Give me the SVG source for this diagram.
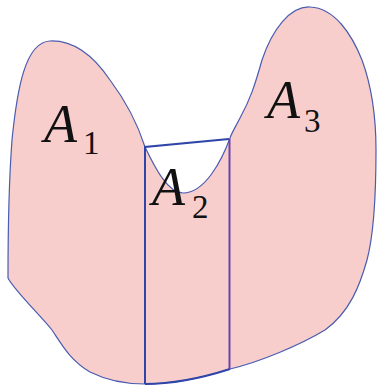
<svg xmlns="http://www.w3.org/2000/svg" width="378" height="386" viewBox="0 0 378 386">
<style>
.region{fill:#f8cecc;stroke:#4a5cb0;stroke-width:1.2}
.rect{fill:none;stroke:#2f45a8;stroke-width:2;stroke-linejoin:miter}
.rectr{fill:none;stroke:#6a44a8;stroke-width:2}
.lbl{font-family:"Liberation Serif","DejaVu Serif",serif;font-style:italic;font-size:54px;fill:#111}
.sub{font-family:"Liberation Serif","DejaVu Serif",serif;font-size:33px;fill:#111}
</style>
<rect width="378" height="386" fill="#ffffff"/>
<g id="shape">
<path class="region" d="M145 147 C138 125 125 100 110 80 C95 58 75 40 50 41 C25 42 17 90 12 140 C9 180 8 230 8 278 C14 290 40 315 52 330 C62 345 70 360 90 372 C110 382 130 384 145 384 C175 384 205 377 230 369 C260 362 300 345 325 330 C350 312 360 285 367 260 C375 230 376 180 376 150 C376 120 373 90 362 60 C352 35 335 8 310 7 C290 6 272 30 262 60 C255 85 250 100 240 118 C236 126 232 132 230 138 C222 160 205 193 183 193 C168 193 155 168 145 147 Z"/>
</g>
<g id="strip">
<path class="rect" d="M145 384 L145 147 L229 139"/>
<path class="rect" d="M145 384 C175 384 205 377 230 369"/>
<path class="rectr" d="M229.5 139 L229.5 369"/>
</g>
<g id="labels">
<text id="A1" x="44" y="142"><tspan class="lbl">A</tspan><tspan class="sub" x="83" y="154">1</tspan></text>
<text id="A3" x="267" y="118"><tspan class="lbl">A</tspan><tspan class="sub" x="304" y="132">3</tspan></text>
<text id="A2" x="152" y="205"><tspan class="lbl">A</tspan><tspan class="sub" x="192" y="218">2</tspan></text>
</g>
</svg>
